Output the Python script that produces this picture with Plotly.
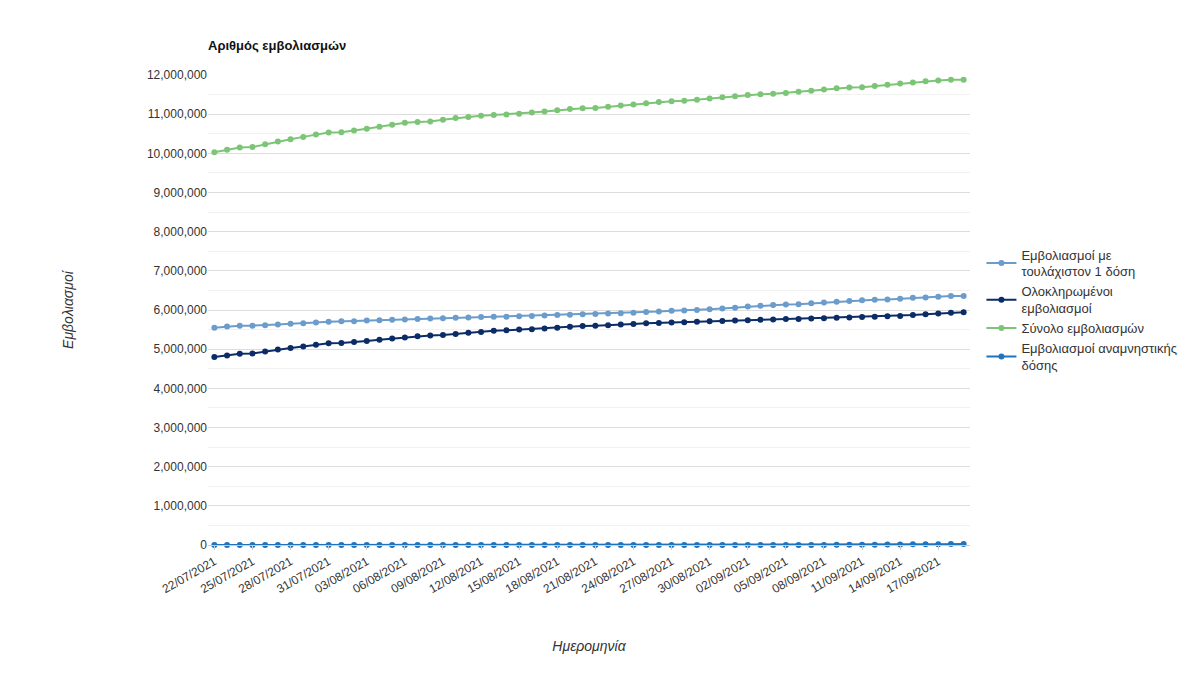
import plotly.graph_objects as go
import pandas as pd

dates = pd.date_range("2021-07-22", periods=60, freq="D")
tick_dates = pd.date_range("2021-07-22", "2021-09-17", freq="3D")
tick_labels = [d.strftime("%d/%m/%Y") for d in tick_dates]

first_dose = [5.55,5.58,5.60,5.60,5.61,5.63,5.65,5.66,5.68,5.70,
              5.71,5.71,5.73,5.74,5.75,5.76,5.77,5.78,5.79,5.80,
              5.81,5.82,5.83,5.83,5.84,5.85,5.86,5.87,5.88,5.89,
              5.90,5.91,5.92,5.93,5.95,5.96,5.98,5.99,6.00,6.02,
              6.04,6.06,6.09,6.11,6.13,6.14,6.15,6.17,6.19,6.21,
              6.23,6.25,6.26,6.27,6.29,6.31,6.32,6.34,6.36,6.36]
completed = [4.80,4.84,4.88,4.89,4.94,4.99,5.03,5.07,5.11,5.15,
             5.16,5.18,5.21,5.24,5.27,5.30,5.33,5.35,5.36,5.39,
             5.42,5.44,5.47,5.48,5.50,5.51,5.53,5.55,5.57,5.59,
             5.60,5.61,5.63,5.64,5.66,5.67,5.68,5.69,5.70,5.71,
             5.72,5.73,5.74,5.75,5.76,5.77,5.77,5.78,5.79,5.80,
             5.81,5.82,5.83,5.84,5.85,5.87,5.89,5.91,5.93,5.94]
total = [10.03,10.09,10.15,10.16,10.23,10.30,10.36,10.42,10.48,10.53,
         10.54,10.58,10.63,10.68,10.73,10.78,10.80,10.81,10.86,10.90,
         10.93,10.96,10.98,10.99,11.01,11.04,11.07,11.10,11.13,11.15,
         11.16,11.19,11.22,11.25,11.28,11.31,11.33,11.34,11.37,11.40,
         11.43,11.46,11.49,11.51,11.52,11.54,11.57,11.60,11.63,11.66,
         11.68,11.69,11.72,11.75,11.78,11.81,11.84,11.86,11.88,11.88]
booster_k = [0,0,0,0,0,0,0,0,0,0,
             0,0,0,0,0,0,0,0,0,0,
             0,0,0,0,0,0,0,0,0,0,
             0,0,0,0,0,0,0,0,0,0,
             0,0,0,0,0,0,1,2,3,4,
             5,7,9,11,13,16,19,22,25,28]

series = [
    ("Εμβολιασμοί με<br>τουλάχιστον 1 δόση", [v*1e6 for v in first_dose], "#6b9ccb"),
    ("Ολοκληρωμένοι<br>εμβολιασμοί", [v*1e6 for v in completed], "#0b2c66"),
    ("Σύνολο εμβολιασμών", [v*1e6 for v in total], "#7cc576"),
    ("Εμβολιασμοί αναμνηστικής<br>δόσης", [v*1e3 for v in booster_k], "#1f74c0"),
]

fig = go.Figure()
for name, ys, c in series:
    fig.add_trace(go.Scatter(x=dates, y=ys, name=name, mode="lines+markers",
                             line=dict(color=c, width=2), marker=dict(size=6, color=c),
                             cliponaxis=False))

fig.update_layout(
    width=1202, height=676, paper_bgcolor="white", plot_bgcolor="white",
    margin=dict(l=200, r=240, t=67, b=139),
    font=dict(family="Liberation Sans, Arial", size=12, color="#333"),
    title=dict(text="<b>Αριθμός εμβολιασμών</b>", x=200/1202, xanchor="left",
               y=1-37/676, yanchor="middle", font=dict(size=13, color="#111")),
    legend=dict(x=1.015, y=0.5, yanchor="middle", font=dict(size=13, color="#333"),
                tracegroupgap=4),
    xaxis=dict(range=[pd.Timestamp("2021-07-21 12:00"), pd.Timestamp("2021-09-19 12:00")],
               tickvals=tick_dates, ticktext=tick_labels, tickangle=-30,
               showgrid=False, showline=True, linecolor="#ccc", automargin=False,
               ticks="outside", tickcolor="#ccc", ticklen=4,
               title=dict(text="<i>Ημερομηνία</i>", standoff=45)),
    yaxis=dict(range=[0, 12e6], dtick=1e6, tickformat=",d", gridcolor="#ddd",
               zeroline=False, automargin=False,
               minor=dict(dtick=5e5, showgrid=True, gridcolor="#f1f1f1"),
               title=dict(text="<i>Εμβολιασμοί</i>", standoff=70)),
)
fig.write_html("out.html")
